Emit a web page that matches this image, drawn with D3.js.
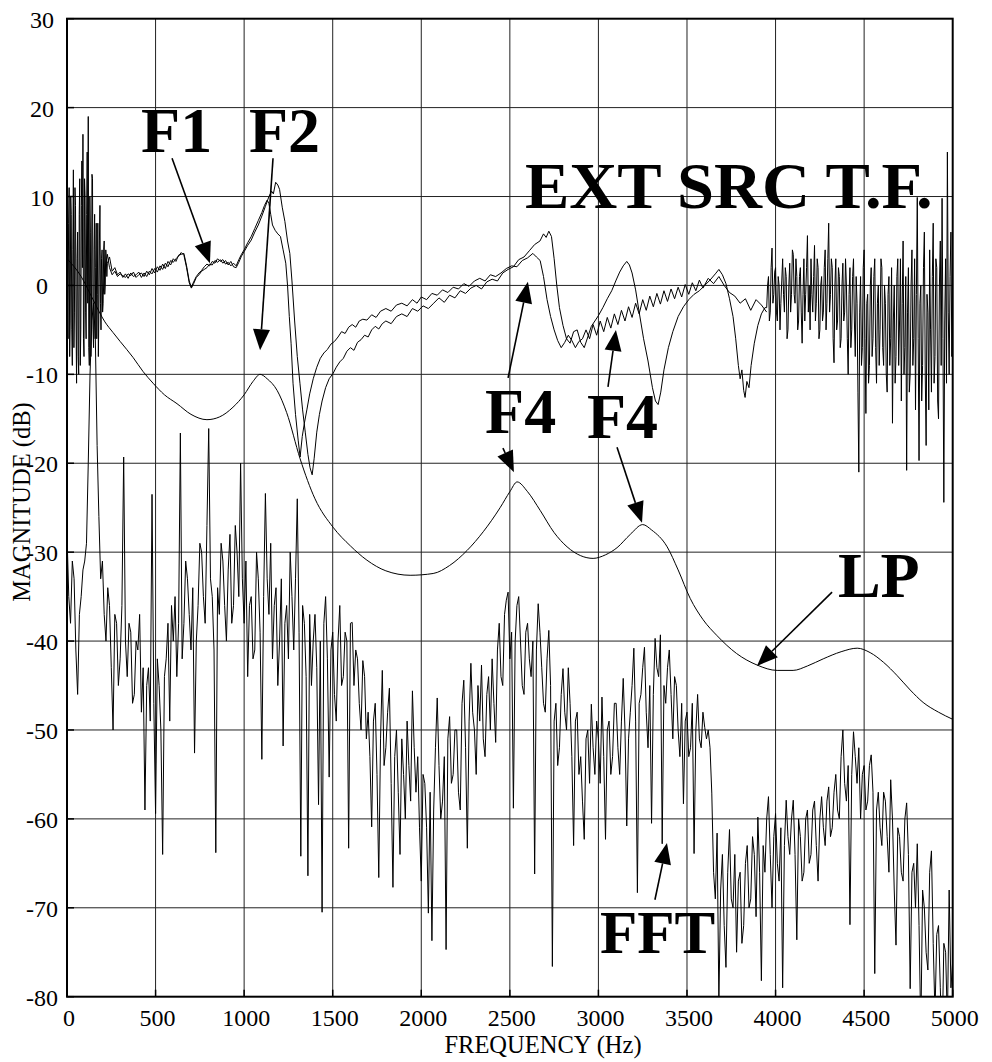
<!DOCTYPE html>
<html lang="en">
<head>
<meta charset="UTF-8">
<title>Magnitude vs frequency</title>
<script src="https://cdn.jsdelivr.net/npm/d3@7"></script>
<style>
  body { margin: 0; background: #fff; }
  text { font-family: 'Liberation Serif', 'Times New Roman', serif; fill: #000; }
  .tick { font-size: 24px; }
  .title { font-size: 24.5px; }
  .note { font-size: 64px; font-weight: bold; }
</style>
</head>
<body>
<script>
// axis ticks
const xTicks = [0, 500, 1000, 1500, 2000, 2500, 3000, 3500, 4000, 4500, 5000];
const yTicks = [30, 20, 10, 0, -10, -20, -30, -40, -50, -60, -70, -80];

// LP envelope (Hz, dB)
const lpFreq = [0, 80, 147, 214, 260, 300, 373, 430, 486, 550, 621, 700, 790, 860, 937, 1000, 1050, 1090, 1130, 1186,
  1240, 1316, 1400, 1502, 1600, 1693, 1800, 1937, 2067, 2160, 2259, 2350, 2445, 2500, 2541, 2600, 2671, 2750, 2823, 2900,
  2970, 3040, 3105, 3180, 3250, 3300, 3388, 3450, 3518, 3591, 3670, 3780, 3896, 4009, 4099, 4180, 4269, 4370, 4461, 4534,
  4610, 4687, 4760, 4833, 4920, 5000];
const lpDb = [3, 1, -1.6, -4.1, -5.3, -6.3, -8.1, -9.7, -11, -12.3, -13.3, -14.5, -15.1, -14.8, -13.7, -12.3, -10.8, -10, -10.5, -11.8,
  -14.3, -19.5, -24, -27.2, -29.3, -30.9, -32.1, -32.6, -32.4, -31.5, -29.8, -27.7, -25, -23.2, -22.1, -23.2, -25.3, -27.8, -29.4, -30.4,
  -30.7, -30.3, -29.5, -28, -26.9, -27.5, -29.4, -32, -35.2, -37.6, -39.4, -41.4, -42.7, -43.3, -43.3, -42.8, -42, -41.2, -40.8, -41.3,
  -42.4, -43.9, -45.5, -46.9, -48, -48.8];

// external source transfer function, low-frequency noise (start 0 Hz, 3 Hz step)
const tfLowStart = 0, tfLowStep = 3;
const tfLow = [5, -2, -6, 7, 11, -8, -4, 10, 8, -5,
  -9, 4, 13, -7, -3, 11, 9, -4, -11, 3,
  6, -8, -10, 8, 12, -9, -5, 9, 14, 2,
  17, -6, -8, 12, 10, -3, -6, 8, 15, -2,
  19, -7, -9, 10, 6, -8, -4, 12.5, 12, -5,
  -7, 4, 8, -6, 2, 7, -6, -1, 7, -8,
  -3, 5, 9, -2, -5, 3, 4, -3, -2, 4,
  5, -1, 0, 4, 3, 1, 2.5];

// transfer function, curve A (Hz, dB)
const tfFreqA = [240, 255, 270, 285, 300, 315, 330, 345, 360, 375, 390, 405, 420, 435, 450, 465, 480, 495, 510, 525,
  540, 555, 570, 585, 600, 615, 630, 645, 660, 675, 690, 702, 715, 730, 745, 760, 775, 790, 805, 820,
  835, 850, 865, 880, 895, 910, 925, 940, 955, 970, 985, 1000, 1020, 1040, 1060, 1080, 1100, 1120, 1140, 1155,
  1165, 1178, 1190, 1200, 1215, 1230, 1245, 1258, 1270, 1285, 1300, 1315, 1330, 1345, 1360, 1372, 1384, 1395, 1410, 1425,
  1440, 1460, 1480, 1502, 1520, 1540, 1560, 1580, 1600, 1620, 1640, 1660, 1680, 1700, 1720, 1740, 1760, 1780, 1800, 1830,
  1860, 1890, 1920, 1950, 1980, 2010, 2040, 2070, 2100, 2130, 2160, 2190, 2220, 2250, 2280, 2310, 2340, 2370, 2400, 2430,
  2460, 2490, 2520, 2550, 2580, 2610, 2640, 2670, 2690, 2705, 2720, 2735, 2750, 2765, 2780, 2800, 2820, 2840, 2860, 2880,
  2900, 2920, 2940, 2960, 2980, 3000, 3025, 3050, 3075, 3100, 3120, 3140, 3160, 3175, 3190, 3210, 3230, 3255, 3280, 3305,
  3322, 3337, 3352, 3370, 3395, 3420, 3450, 3480, 3510, 3540, 3570, 3600, 3630, 3660, 3680, 3700, 3720, 3740, 3760, 3775,
  3790, 3800, 3810, 3820, 3828, 3838, 3850, 3862, 3880, 3900, 3920, 3940];
const tfA = [3.2, 1.6, 2.0, 1.2, 1.5, 0.9, 1.3, 0.8, 1.4, 1.0, 1.2, 1.5, 0.9, 1.4, 1.0, 1.6, 1.3, 1.9, 1.5, 2.2,
  1.8, 2.5, 2.1, 2.8, 2.6, 3.0, 3.3, 3.7, 3.4, 2.0, 0.3, -0.3, 0.2, 0.9, 1.2, 1.6, 1.8, 2.0, 2.4, 2.3,
  2.8, 2.6, 2.9, 2.5, 2.8, 2.3, 2.7, 2.1, 2.0, 2.6, 3.3, 3.8, 4.5, 5.1, 6.0, 6.8, 7.8, 8.9, 10.0, 10.6,
  10.3, 11.6, 11.3, 10.8, 8.8, 7.2, 5.0, 3.6, 0.5, -4, -8, -11, -14, -16.5, -19, -20.5, -21.3, -19.5, -16.5, -14.5,
  -13, -11.5, -10.5, -9.9, -9.2, -8.6, -8.2, -7.4, -7.0, -7.3, -6.4, -6.1, -5.6, -5.8, -5.0, -4.6, -4.9, -4.3, -4.0, -4.3,
  -3.5, -3.2, -3.5, -2.6, -2.9, -2.3, -2.6, -2.0, -1.4, -1.9, -1.1, -1.4, -0.6, -0.9, -0.3, 0.0, -0.4, 0.4, 0.7, 0.5,
  1.4, 1.8, 2.1, 2.9, 3.2, 3.9, 4.6, 5.0, 5.8, 5.4, 6.1, 5.5, 3.0, 0.0, -2.5, -4.5, -6.0, -6.5, -5.2, -5.0,
  -6.4, -7.0, -5.8, -4.6, -4.0, -3.4, -2.5, -1.5, -0.6, 0.6, 1.5, 2.2, 2.7, 2.3, 1.4, -0.5, -3.0, -6.0, -8.5, -11.5,
  -13.0, -13.4, -12.0, -9.5, -7.0, -5.2, -3.5, -2.4, -1.6, -1.0, -0.6, 0.0, 0.6, 1.3, 1.8, 1.2, 0.2, -1.5, -3.5, -6.0,
  -9.0, -10.5, -9.5, -11.8, -12.6, -10.8, -11.5, -9.0, -6.5, -4.5, -3.2, -2.5];

// transfer function, high-frequency noise (start 3950 Hz, 5 Hz step)
const tfHighStart = 3950, tfHighStep = 5;
const tfHigh = [-2.5, 0, 1, -4, -3, 2, 4.2, -2, -1, 1.5,
  2, -3, -4, 1, 0, -5, -2, 0.5, 3, -1,
  -3, 2, 1, -6, -5, 0, 2.5, -3, -1, 4,
  3.5, -1, -2, 3, 1, -5, -4, 1, 2, -3,
  -6.5, -1, 3, -4, -1, 2, 5.6, -3, 0, -5,
  3, -1, -3, 1, 4.5, -4, -2, 3, 2, -6,
  -5, 0, 1, -4, -3, 2, 4, -5, -2, 3,
  7, -3, -1, 3, 2, -6, -8.7, 0, 3, -5,
  -4, 2, 1, -7, -6, 0, 2.5, -4, -3, 3,
  0, -6, -10, -1, 2, -7, -5, 1, 3, -4,
  -8, 1, -2, -12, -21, -3, 1, -9, -7, 2,
  4, -6, -14.4, -2, -1, -11, -9, 0, 2, -8,
  -6, 1, 3, -7, -11, -2, 0, -9, -5, 3,
  2, -7, -9, 0, -2, -10, -12, -1, 1, -9,
  -6, 2, -15.5, -4, 0, -11, -8, 1, 3, -9,
  -4, 3, -13, -2, 5, -10, -7, 1, -20.8, -3,
  2, -12, -10, 0, 4, -9, -6, 3, -14, -1,
  9.9, -6, -19.7, -2, 0, -13, -9, 2, 6, -10,
  -18, -1, -3, -14, 4, -5, -12, 1, 7, -11,
  -8, 3, 2, -13, -15, 0, 5, -9, 9.8, -6,
  -24.4, -4, 3, -11, 15, -3, -10, 1, 6, -8,
  -2];

// transfer function, curve B (Hz, dB)
const tfFreqB = [204, 216, 228, 240, 255, 270, 285, 300, 315, 330, 345, 360, 375, 390, 405, 420, 435, 450, 465, 480,
  495, 510, 525, 540, 555, 570, 585, 600, 615, 630, 645, 660, 675, 690, 702, 715, 730, 745, 760, 775,
  790, 805, 820, 835, 850, 865, 880, 895, 910, 925, 940, 955, 970, 985, 1000, 1020, 1040, 1060, 1080, 1100,
  1115, 1130, 1140, 1150, 1160, 1175, 1190, 1205, 1220, 1235, 1245, 1255, 1265, 1276, 1290, 1305, 1316, 1328, 1340, 1354,
  1370, 1390, 1410, 1430, 1450, 1470, 1490, 1510, 1530, 1550, 1570, 1590, 1610, 1630, 1650, 1670, 1693, 1720, 1745, 1770,
  1800, 1830, 1860, 1890, 1920, 1950, 1976, 2000, 2030, 2060, 2090, 2120, 2150, 2180, 2210, 2240, 2270, 2300, 2330, 2360,
  2390, 2420, 2450, 2480, 2510, 2540, 2570, 2600, 2630, 2650, 2671, 2690, 2710, 2730, 2750, 2770, 2790, 2810, 2830, 2850,
  2870, 2890, 2910, 2930, 2950, 2970, 2990, 3010, 3030, 3050, 3070, 3090, 3110, 3130, 3150, 3170, 3190, 3210, 3230, 3250,
  3270, 3290, 3310, 3330, 3350, 3370, 3390, 3410, 3430, 3450, 3470, 3490, 3510, 3530, 3550, 3570, 3590, 3620, 3650, 3680,
  3710, 3740, 3770, 3800, 3830, 3860, 3890, 3920, 3950];
const tfB = [-1, 2, 3.5, 2.0, 1.2, 1.6, 1.0, 1.3, 1.1, 0.9, 1.3, 1.1, 1.5, 0.9, 1.2, 1.4, 1.0, 1.6, 1.2, 1.9,
  1.4, 2.1, 1.7, 2.4, 1.9, 2.7, 2.3, 3.0, 2.7, 3.4, 3.5, 3.6, 2.2, 0.5, -0.2, 0.4, 1.0, 1.4, 1.7, 2.1,
  2.4, 2.2, 2.7, 2.5, 3.0, 2.7, 2.9, 2.4, 2.6, 2.2, 2.5, 2.2, 2.9, 3.5, 4.0, 4.8, 5.5, 6.4, 7.3, 8.2,
  9.0, 9.6, 9.2, 8.0, 6.8, 6.2, 5.8, 5.5, 4.0, 2.5, 0.0, -3.5, -6.5, -11, -14.5, -17.4, -19.3, -17.0, -15.5, -14,
  -12.2, -10.5, -9.2, -8.2, -7.6, -7.2, -6.6, -6.3, -5.8, -5.2, -5.4, -4.7, -4.4, -4.7, -4.0, -3.8, -3.9, -3.3, -3.6, -2.9,
  -2.6, -2.9, -2.2, -2.0, -2.3, -1.6, -2.0, -1.3, -1.6, -0.9, -1.1, -0.5, -0.8, -0.2, -0.4, 0.2, -0.1, 0.5, 0.8, 0.5,
  1.2, 1.0, 1.4, 1.9, 2.2, 2.1, 2.8, 3.1, 3.6, 3.2, 2.8, 1.0, -1.6, -3.5, -5.0, -6.2, -7.0, -6.4, -5.6, -6.2,
  -7.0, -6.3, -6.0, -5.0, -6.0, -4.4, -5.6, -4.0, -5.2, -3.6, -4.8, -3.2, -4.4, -2.8, -4.0, -2.4, -3.6, -2.0, -3.2, -1.6,
  -2.8, -1.2, -2.4, -0.9, -2.1, -0.6, -1.8, -0.4, -1.5, -0.2, -1.3, 0.1, -1.0, 0.3, -0.6, 0.6, -0.3, 0.8, 0.2, 1.0,
  0.0, -0.8, -1.2, -2.0, -1.5, -2.8, -1.6, -2.2, -3.0];

// FFT of the signal (start 0 Hz, 10 Hz step), one row per 200 Hz
const fftStart = 0, fftStep = 10;
const fftDb = [
  -28, -35, -38, -31, -33, -41, -46, -37, -35, -32, -31, -29, -20, -10, -4, -2, -6, -18, -26, -33,
  -31, -37, -40, -34, -36, -43, -50, -37, -38, -45, -42, -36, -19.3, -40, -44, -38, -39, -47, -46, -40,
  -41, -37, -48, -43, -59, -45, -43, -49, -23.5, -47, -59.4, -42, -45, -50, -64, -44, -42, -38, -49, -36,
  -40, -35, -44, -38, -16.6, -42, -38, -31, -33, -37, -41, -34, -52.6, -40, -36, -29, -30, -35, -38, -27,
  -16.1, -33, -35, -41, -63.8, -34, -37, -29, -31, -36, -40, -32, -28, -38, -36, -27, -30, -35, -20, -33,
  -38, -31, -44, -36, -35, -42, -41, -30, -33, -39, -53.3, -35, -23.4, -33, -37, -29, -42, -36, -34, -45,
  -40, -33, -51.8, -38, -36, -42, -30, -35, -41, -33, -24, -39, -64.2, -36, -38, -44, -66.4, -37, -45, -40,
  -37, -43, -58.4, -40, -70.5, -38, -35, -42, -55.3, -41, -39, -46, -49, -40, -36, -45, -44, -39, -40, -63.3,
  -38, -37.9, -45, -41, -42, -47, -50, -42.2, -44, -51, -48, -53, -60.9, -49, -47, -55, -66.6, -51, -43.3, -54,
  -52, -48, -45.3, -56, -67.7, -53, -50, -57, -64, -51, -55, -60, -49, -54, -58, -45.6, -52, -57, -53, -61,
  -67, -55, -56, -61, -70.6, -57, -73.7, -59, -52, -46.4, -54, -60, -58, -53, -74.7, -51, -48.5, -56, -55, -50,
  -50, -57, -59, -47, -44.4, -52, -63.3, -49, -42.5, -48, -50, -55, -45, -49, -42.7, -51, -53, -46, -44, -50,
  -42, -47, -51.4, -41, -38, -44, -45, -37, -35.4, -34.5, -42, -39, -58.8, -40, -36, -35, -40, -45, -46, -39,
  -38, -42, -44, -40, -66.2, -41, -35.8, -39, -43, -47, -48, -42, -38.8, -45, -76.6, -49, -47, -54, -52, -46,
  -43.1, -48, -50, -43, -47, -53, -63, -49, -48, -55, -53, -58, -62.3, -51, -50, -56, -47.1, -52, -55, -49,
  -51, -56, -46.3, -53, -62.3, -50, -49, -55, -53, -47, -47, -52, -55, -49, -44.2, -50, -60.8, -51, -48, -45,
  -40.8, -49, -68.3, -47, -46, -43, -40.7, -48, -52, -45, -60.5, -46, -39.7, -43, -44, -39.3, -62.8, -45, -47, -43,
  -41, -46, -51, -44, -45, -50, -53, -47, -58.3, -49, -48, -53, -52, -47, -63.9, -50, -46, -51, -52, -48,
  -49.7, -51, -50, -52, -57.1, -66, -69, -61.6, -80.5, -68, -64, -72, -76.7, -66, -61.2, -69, -70, -64, -75, -67,
  -66, -74, -72, -65, -63, -70, -69, -62, -64, -71, -59.8, -66, -78.2, -63, -66, -60, -57.5, -64, -70, -62,
  -59.4, -65, -67, -61, -79, -63, -57.9, -62, -64, -60, -57.9, -64, -73.6, -60, -62, -67, -66, -60, -59, -65,
  -64, -59, -58, -63, -67, -60, -57.5, -61, -63, -58, -56.4, -62, -61, -57, -55, -59, -60, -53, -50, -56,
  -58, -54, -71.9, -55, -50.2, -53, -56, -52, -60, -55, -54, -59, -58, -54, -52.8, -57, -77.4, -59, -57, -61,
  -63, -57, -58, -62, -66, -55.6, -60, -68, -74.2, -61, -62, -66, -67, -60, -58.2, -64, -79.1, -66, -65, -70,
  -62.8, -72, -84, -68, -70, -75, -77, -66, -63.6, -74, -82, -73, -72, -79, -86, -74, -75, -83, -68, -79,
  -76];

// annotations: label text and arrows, in data units (Hz, dB)
const notes = [
  {text: 'F1', f: 418, db: 15.0, size: 64},
  {text: 'F2', f: 1027, db: 15.0, size: 64},
  {text: 'EXT SRC T.F.', f: 2585, db: 8.7, size: 66.5},
  {text: 'F4', f: 2360, db: -16.6, size: 64},
  {text: 'F4', f: 2935, db: -17.2, size: 64},
  {text: 'LP', f: 4352, db: -35.0, size: 64},
  {text: 'FFT', f: 3009, db: -75.1, size: 61}
];
const arrows = [
  {from: [593, 14.3], to: [807, 2.5]},
  {from: [1163, 14.3], to: [1090, -7.3]},
  {from: [2490, -10.4], to: [2602, 0.4]},
  {from: [2461, -18.3], to: [2523, -21.0]},
  {from: [3054, -11.4], to: [3099, -5.0]},
  {from: [3105, -18.2], to: [3246, -26.7]},
  {from: [4319, -34.5], to: [3895, -42.8]},
  {from: [3319, -69.1], to: [3387, -62.7]}
];

const width = 992, height = 1062;
const plotLeft = 67, plotRight = 952.7, plotTop = 18.7, plotBottom = 996.7;

const x = d3.scaleLinear().domain([0, 5000]).range([plotLeft, plotRight]);
const y = d3.scaleLinear().domain([-80, 30]).range([plotBottom, plotTop]);

const svg = d3.select('body').append('svg')
    .attr('width', width).attr('height', height);

svg.append('defs').append('clipPath').attr('id', 'plot')
    .append('rect').attr('x', plotLeft).attr('y', plotTop)
    .attr('width', plotRight - plotLeft).attr('height', plotBottom - plotTop);

// grid
svg.append('g').selectAll('line').data(xTicks.slice(1, -1)).join('line')
    .attr('x1', d => x(d)).attr('x2', d => x(d))
    .attr('y1', plotTop).attr('y2', plotBottom)
    .attr('stroke', '#222').attr('stroke-width', 1);
svg.append('g').selectAll('line').data(yTicks.slice(1, -1)).join('line')
    .attr('x1', plotLeft).attr('x2', plotRight)
    .attr('y1', d => y(d)).attr('y2', d => y(d))
    .attr('stroke', '#222').attr('stroke-width', 1);

// tick labels
svg.append('g').selectAll('text').data(xTicks).join('text')
    .attr('class', 'tick')
    .attr('x', d => x(d) + 2).attr('y', plotBottom + 29)
    .attr('text-anchor', 'middle')
    .text(d => d);
svg.append('g').selectAll('text').data(yTicks).join('text')
    .attr('class', 'tick')
    .attr('x', 42).attr('y', d => y(d) + 9)
    .attr('text-anchor', 'middle')
    .text(d => d);

svg.append('text').attr('class', 'title')
    .attr('x', 543).attr('y', 1053)
    .attr('text-anchor', 'middle')
    .text('FREQUENCY (Hz)');
svg.append('text').attr('class', 'title')
    .attr('transform', `translate(30,502) rotate(-90)`)
    .attr('text-anchor', 'middle')
    .text('MAGNITUDE (dB)');

// series
const fftPts = fftDb.map((v, i) => [fftStart + i * fftStep, v]);
const tfPtsA = tfLow.map((v, i) => [tfLowStart + i * tfLowStep, v])
    .concat(tfFreqA.map((f, i) => [f, tfA[i]]))
    .concat(tfHigh.map((v, i) => [tfHighStart + i * tfHighStep, v]));
const tfPtsB = tfFreqB.map((f, i) => [f, tfB[i]]);
const lpPts = lpFreq.map((f, i) => [f, lpDb[i]]);

const line = d3.line().x(d => x(d[0])).y(d => y(d[1]));
const smooth = d3.line().x(d => x(d[0])).y(d => y(d[1])).curve(d3.curveMonotoneX);

const plot = svg.append('g').attr('clip-path', 'url(#plot)');
plot.append('path').datum(fftPts).attr('d', line)
    .attr('fill', 'none').attr('stroke', '#000').attr('stroke-width', 1);
plot.append('path').datum(tfPtsB).attr('d', line)
    .attr('fill', 'none').attr('stroke', '#000').attr('stroke-width', 1);
plot.append('path').datum(tfPtsA).attr('d', line)
    .attr('fill', 'none').attr('stroke', '#000').attr('stroke-width', 1);
plot.append('path').datum(lpPts).attr('d', smooth)
    .attr('fill', 'none').attr('stroke', '#000').attr('stroke-width', 1);

// frame and inner ticks
svg.append('rect').attr('x', plotLeft).attr('y', plotTop)
    .attr('width', plotRight - plotLeft).attr('height', plotBottom - plotTop)
    .attr('fill', 'none').attr('stroke', '#000').attr('stroke-width', 2);
svg.append('g').selectAll('line').data(xTicks).join('line')
    .attr('x1', d => x(d)).attr('x2', d => x(d))
    .attr('y1', plotBottom).attr('y2', plotBottom - 7)
    .attr('stroke', '#000').attr('stroke-width', 1.5);
svg.append('g').selectAll('line').data(yTicks).join('line')
    .attr('x1', plotLeft).attr('x2', plotLeft + 7)
    .attr('y1', d => y(d)).attr('y2', d => y(d))
    .attr('stroke', '#000').attr('stroke-width', 1.5);

// annotations
svg.append('g').selectAll('text').data(notes).join('text')
    .attr('class', 'note')
    .attr('x', d => x(d.f)).attr('y', d => y(d.db))
    .style('font-size', d => d.size + 'px')
    .text(d => d.text);

const headLen = 21, headHalf = 8.5;
const arrowG = svg.append('g');
arrows.forEach(a => {
  const x0 = x(a.from[0]), y0 = y(a.from[1]);
  const x1 = x(a.to[0]), y1 = y(a.to[1]);
  const len = Math.hypot(x1 - x0, y1 - y0);
  const ux = (x1 - x0) / len, uy = (y1 - y0) / len;
  const bx = x1 - ux * headLen, by = y1 - uy * headLen;
  arrowG.append('line')
      .attr('x1', x0).attr('y1', y0).attr('x2', bx).attr('y2', by)
      .attr('stroke', '#000').attr('stroke-width', 1.6);
  arrowG.append('path')
      .attr('d', `M${x1},${y1}L${bx - uy * headHalf},${by + ux * headHalf}L${bx + uy * headHalf},${by - ux * headHalf}Z`)
      .attr('fill', '#000');
});
</script>
</body>
</html>
